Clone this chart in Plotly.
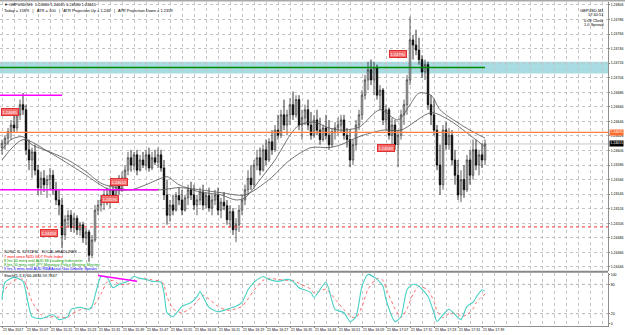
import plotly.graph_objects as go

# ---------------- data ----------------
candle_idx = list(range(162))

opens = [
1.24610,1.24616,1.24623,1.24632,1.24641,1.24637,1.24655,1.24669,1.24662,1.24607,
1.24593,1.24604,1.24579,1.24555,1.24568,1.24559,1.24566,1.24572,1.24552,1.24538,
1.24531,1.24490,1.24511,1.24517,1.24500,1.24513,1.24497,1.24504,1.24486,1.24494,
1.24462,1.24483,1.24524,1.24531,1.24538,1.24545,1.24538,1.24552,1.24545,1.24563,
1.24552,1.24568,1.24579,1.24596,1.24586,1.24600,1.24579,1.24593,1.24586,1.24600,
1.24582,1.24596,1.24590,1.24600,1.24582,1.24545,1.24517,1.24531,1.24524,1.24544,
1.24538,1.24524,1.24541,1.24552,1.24545,1.24531,1.24538,1.24549,1.24531,1.24544,
1.24527,1.24538,1.24545,1.24524,1.24535,1.24530,1.24511,1.24522,1.24497,1.24504,
1.24524,1.24538,1.24552,1.24568,1.24559,1.24586,1.24596,1.24579,1.24607,1.24593,
1.24618,1.24607,1.24634,1.24627,1.24655,1.24641,1.24655,1.24669,1.24655,1.24676,
1.24641,1.24651,1.24662,1.24641,1.24627,1.24648,1.24634,1.24621,1.24637,1.24627,
1.24614,1.24632,1.24637,1.24641,1.24648,1.24627,1.24621,1.24593,1.24614,1.24641,
1.24655,1.24682,1.24703,1.24717,1.24703,1.24720,1.24682,1.24689,1.24648,1.24662,
1.24627,1.24641,1.24614,1.24627,1.24655,1.24669,1.24703,1.24758,1.24751,1.24744,
1.24731,1.24714,1.24724,1.24669,1.24655,1.24634,1.24586,1.24559,1.24634,1.24614,
1.24627,1.24593,1.24572,1.24545,1.24566,1.24552,1.24593,1.24572,1.24607,1.24586,
1.24600,1.24593]

highs = [
1.24621,1.24627,1.24637,1.24648,1.24655,1.24662,1.24676,1.24685,1.24669,1.24621,
1.24610,1.24614,1.24586,1.24577,1.24579,1.24572,1.24582,1.24579,1.24563,1.24552,
1.24541,1.24517,1.24524,1.24524,1.24520,1.24517,1.24508,1.24508,1.24500,1.24497,
1.24490,1.24531,1.24538,1.24545,1.24552,1.24555,1.24559,1.24566,1.24568,1.24572,
1.24577,1.24586,1.24604,1.24607,1.24604,1.24607,1.24600,1.24604,1.24607,1.24610,
1.24604,1.24607,1.24610,1.24607,1.24593,1.24566,1.24538,1.24545,1.24549,1.24555,
1.24552,1.24545,1.24559,1.24563,1.24559,1.24545,1.24555,1.24559,1.24549,1.24555,
1.24545,1.24552,1.24555,1.24541,1.24549,1.24538,1.24531,1.24527,1.24513,1.24531,
1.24545,1.24559,1.24579,1.24586,1.24593,1.24607,1.24610,1.24614,1.24621,1.24623,
1.24634,1.24641,1.24655,1.24662,1.24676,1.24662,1.24678,1.24687,1.24682,1.24682,
1.24662,1.24669,1.24676,1.24659,1.24655,1.24662,1.24651,1.24641,1.24655,1.24648,
1.24637,1.24645,1.24651,1.24655,1.24655,1.24637,1.24634,1.24621,1.24648,1.24662,
1.24689,1.24710,1.24728,1.24731,1.24728,1.24724,1.24696,1.24692,1.24669,1.24665,
1.24651,1.24648,1.24634,1.24662,1.24676,1.24710,1.24790,1.24765,1.24772,1.24761,
1.24737,1.24731,1.24728,1.24682,1.24676,1.24641,1.24614,1.24641,1.24645,1.24637,
1.24634,1.24607,1.24593,1.24579,1.24586,1.24600,1.24607,1.24621,1.24621,1.24607,
1.24616,1.24621]

lows = [
1.24600,1.24607,1.24614,1.24621,1.24630,1.24632,1.24648,1.24655,1.24600,1.24579,
1.24568,1.24572,1.24545,1.24545,1.24549,1.24541,1.24552,1.24545,1.24531,1.24517,
1.24472,1.24483,1.24500,1.24494,1.24493,1.24490,1.24489,1.24479,1.24476,1.24453,
1.24458,1.24480,1.24517,1.24522,1.24524,1.24531,1.24527,1.24538,1.24541,1.24545,
1.24549,1.24559,1.24572,1.24577,1.24579,1.24572,1.24577,1.24582,1.24579,1.24577,
1.24579,1.24586,1.24582,1.24577,1.24538,1.24504,1.24508,1.24517,1.24522,1.24531,
1.24517,1.24522,1.24531,1.24538,1.24524,1.24517,1.24531,1.24524,1.24527,1.24522,
1.24517,1.24531,1.24517,1.24513,1.24524,1.24504,1.24500,1.24490,1.24480,1.24494,
1.24517,1.24531,1.24545,1.24552,1.24555,1.24579,1.24572,1.24577,1.24586,1.24590,
1.24600,1.24604,1.24621,1.24623,1.24634,1.24627,1.24641,1.24648,1.24651,1.24634,
1.24621,1.24641,1.24634,1.24621,1.24623,1.24627,1.24614,1.24618,1.24621,1.24607,
1.24610,1.24621,1.24627,1.24630,1.24621,1.24610,1.24583,1.24586,1.24607,1.24634,
1.24648,1.24676,1.24689,1.24696,1.24682,1.24676,1.24662,1.24641,1.24634,1.24621,
1.24614,1.24607,1.24583,1.24621,1.24641,1.24655,1.24696,1.24731,1.24737,1.24724,
1.24706,1.24703,1.24662,1.24641,1.24627,1.24579,1.24545,1.24552,1.24607,1.24607,
1.24586,1.24559,1.24538,1.24535,1.24541,1.24549,1.24559,1.24566,1.24579,1.24572,
1.24582,1.24586]

closes = [
1.24616,1.24623,1.24632,1.24641,1.24637,1.24655,1.24669,1.24662,1.24607,1.24593,
1.24604,1.24579,1.24555,1.24568,1.24559,1.24566,1.24572,1.24552,1.24538,1.24531,
1.24490,1.24511,1.24517,1.24500,1.24513,1.24497,1.24504,1.24486,1.24494,1.24462,
1.24483,1.24524,1.24531,1.24538,1.24545,1.24538,1.24552,1.24545,1.24563,1.24552,
1.24568,1.24579,1.24596,1.24586,1.24600,1.24579,1.24593,1.24586,1.24600,1.24582,
1.24596,1.24590,1.24600,1.24582,1.24545,1.24517,1.24531,1.24524,1.24544,1.24538,
1.24524,1.24541,1.24552,1.24545,1.24531,1.24538,1.24549,1.24531,1.24544,1.24527,
1.24538,1.24545,1.24524,1.24535,1.24530,1.24511,1.24522,1.24497,1.24504,1.24524,
1.24538,1.24552,1.24568,1.24559,1.24586,1.24596,1.24579,1.24607,1.24593,1.24618,
1.24607,1.24634,1.24627,1.24655,1.24641,1.24655,1.24669,1.24655,1.24676,1.24641,
1.24651,1.24662,1.24641,1.24627,1.24648,1.24634,1.24621,1.24637,1.24627,1.24614,
1.24632,1.24637,1.24641,1.24648,1.24627,1.24621,1.24593,1.24614,1.24641,1.24655,
1.24682,1.24703,1.24717,1.24703,1.24720,1.24682,1.24689,1.24648,1.24662,1.24627,
1.24641,1.24614,1.24627,1.24655,1.24669,1.24703,1.24758,1.24751,1.24744,1.24731,
1.24714,1.24724,1.24669,1.24655,1.24634,1.24586,1.24559,1.24634,1.24614,1.24627,
1.24593,1.24572,1.24545,1.24566,1.24552,1.24593,1.24572,1.24607,1.24586,1.24600,
1.24593,1.24615]

ma_fast_idx = [0,3,7,10,16,22,28,33,38,43,48,52,55,59,66,73,78,81,86,91,96,99,104,109,113,119,126,132,136,139,143,146,152,156,161]
ma_fast = [1.24607,1.24621,1.24625,1.24614,1.24604,1.24593,1.24577,1.24561,1.24555,1.24552,1.24559,1.24566,1.24570,1.24559,1.24549,1.24545,1.24538,1.24541,1.24566,1.24593,1.24627,1.24641,1.24645,1.24637,1.24634,1.24638,1.24662,1.24648,1.24669,1.24685,1.24682,1.24662,1.24644,1.24634,1.24623]

ma_slow_idx = [0,7,16,27,36,44,53,59,66,73,81,89,96,103,109,113,119,127,133,143,149,156,161]
ma_slow = [1.24593,1.24621,1.24603,1.24575,1.24552,1.24552,1.24552,1.24555,1.24552,1.24548,1.24545,1.24566,1.24593,1.24610,1.24610,1.24614,1.24625,1.24634,1.24634,1.24658,1.24648,1.24627,1.24611]

stoch_idx = [0,1,4,7,8,10,13,15,17,19,22,23,26,29,30,33,35,37,39,42,44,46,48,50,53,54,55,57,60,63,65,66,67,69,72,75,78,80,82,84,87,89,92,95,97,99,103,104,108,111,114,116,118,120,122,125,127,128,131,133,135,137,139,142,144,145,147,149,152,153,155,157,158,160,161]
stoch_k = [49,84,94,86,63,14,10,14,18,8,14,29,33,29,35,96,94,73,80,86,96,92,90,86,84,63,22,14,35,43,55,65,55,33,24,29,35,43,69,84,96,90,86,90,86,73,63,53,84,29,22,4,14,76,100,90,76,49,4,14,69,80,76,55,22,4,18,29,12,8,35,43,53,69,66]
stoch_d = [60,70,88,90,80,45,18,12,14,13,12,18,28,31,32,60,85,88,80,80,88,92,92,89,86,78,55,30,22,32,45,52,58,50,35,27,30,35,50,68,88,92,90,88,88,82,70,62,70,50,28,15,12,35,70,92,88,72,30,12,30,60,76,68,45,25,12,20,20,14,18,30,42,55,60]

time_tick_idx = [0,8,16,24,32,40,48,56,64,72,80,88,96,104,112,120,128,136,144,152,160]
time_tick_text = ["21 Mar 2017","21 Mar 15:07","21 Mar 15:15","21 Mar 15:23","21 Mar 15:31",
                  "21 Mar 15:39","21 Mar 15:47","21 Mar 15:55","21 Mar 16:03","21 Mar 16:11",
                  "21 Mar 16:19","21 Mar 16:27","21 Mar 16:35","21 Mar 16:43","21 Mar 16:51",
                  "21 Mar 16:59","21 Mar 17:07","21 Mar 17:15","21 Mar 17:23","21 Mar 17:31",
                  "21 Mar 17:39"]
grid_idx = list(range(0, 203, 4))

price_ticks = [1.24806,1.24786,1.24766,1.24746,1.24726,1.24706,1.24686,1.24666,1.24646,1.24626,
               1.24606,1.24586,1.24566,1.24546,1.24526,1.24506,1.24486,1.24466,1.24446]
stoch_ticks = [0, 20, 80, 100]
stoch_levels = [20, 80]

# horizontal levels
zone_top, zone_bottom = 1.24728, 1.24712
green_level = 1.24720
orange_level = 1.24631
red_dotted_level = 1.24501
bid_level = 1.24615
magenta_1 = (1.24682, 20)
magenta_2 = (1.24552, 52)
stoch_trend = ([32, 45], [98, 86])

price_labels = [  # (candle index, price, text)
    (2.7, 1.24659, "1.24685"),
    (39, 1.24563, "1.24610"),
    (36, 1.24540, "1.24596"),
    (15.7, 1.24493, "1.24453"),
    (132, 1.24739, "1.24790"),
    (128, 1.24610, "1.24583"),
]

header_1 = "\u25bc GBPUSD,M1  1.24580 1.24615 1.24580 1.24615"
header_2 = "Today = 158.9   |   ATR = 100   |   ATR Projection Up = 1.246   |   ATR Projection Down = 1.2359"
info_lines = ["GBPUSD,M1", "17:40:51", "0.09 Close", "1.0 Spread"]
news_lines = [
    ("SONIC R. SYSTEM    FOCAL HEADLINES", "#000000"),
    ("7 mins since NZD GDT Price Index", "#ff0000"),
    ("8 hrs 50 mins until AUD MI Leading Index m/m", "#00a000"),
    ("8 hrs 50 mins until JPY Monetary Policy Meeting Minutes", "#00a000"),
    ("9 hrs 5 mins until AUD RBA Assist Gov Debelle Speaks", "#0000ff"),
]
stoch_title = "Stoch(5,3,3) 66.4836 59.7847"

# ---------------- layout geometry ----------------
W, H = 625, 335
ML, MR, MT, MB = 0, 17, 2, 9
PH = H - MT - MB
BOTTOM = H - MB
def py(pix):  # pixel row -> paper y
    return (BOTTOM - pix) / PH
def px(pix):
    return pix / (W - ML - MR)

FONT = "Liberation Sans"
GRID = "#c4c4c4"

fig = go.Figure()

fig.add_trace(go.Candlestick(
    x=candle_idx, open=opens, high=highs, low=lows, close=closes,
    xaxis="x", yaxis="y", whiskerwidth=0,
    increasing=dict(line=dict(color="#383838", width=0.8), fillcolor="#ffffff"),
    decreasing=dict(line=dict(color="#000000", width=0.8), fillcolor="#000000"),
    showlegend=False, hoverinfo="skip"))

fig.add_trace(go.Scatter(x=ma_fast_idx, y=ma_fast, mode="lines", xaxis="x", yaxis="y",
                         line=dict(color="#505050", width=0.8, shape="spline", smoothing=0.8),
                         showlegend=False, hoverinfo="skip"))
fig.add_trace(go.Scatter(x=ma_slow_idx, y=ma_slow, mode="lines", xaxis="x", yaxis="y",
                         line=dict(color="#505050", width=0.8, shape="spline", smoothing=0.8),
                         showlegend=False, hoverinfo="skip"))

fig.add_trace(go.Scatter(x=stoch_idx, y=stoch_d, mode="lines", xaxis="x2", yaxis="y2",
                         line=dict(color="#ff6a6a", width=1, dash="dot", shape="spline", smoothing=0.6),
                         showlegend=False, hoverinfo="skip"))
fig.add_trace(go.Scatter(x=stoch_idx, y=stoch_k, mode="lines", xaxis="x2", yaxis="y2",
                         line=dict(color="#48d1c4", width=1.1, shape="spline", smoothing=0.6),
                         showlegend=False, hoverinfo="skip"))
fig.add_trace(go.Scatter(x=stoch_trend[0], y=stoch_trend[1], mode="lines", xaxis="x2", yaxis="y2",
                         line=dict(color="#ff00ff", width=1.5),
                         showlegend=False, hoverinfo="skip"))

x_range = [-0.667, 202]
main_dom = [py(271), 1]
stoch_dom = [0, py(273)]

shapes = []
shapes.append(dict(type="rect", xref="paper", yref="y", x0=0, x1=1, y0=zone_bottom, y1=zone_top,
                   fillcolor="#a9dbe3", line=dict(width=0), layer="below"))
shapes.append(dict(type="line", xref="x", yref="y", x0=x_range[0], x1=161, y0=green_level, y1=green_level,
                   line=dict(color="#008a00", width=1.6)))
shapes.append(dict(type="line", xref="paper", yref="y", x0=0, x1=1, y0=orange_level, y1=orange_level,
                   line=dict(color="#ff8040", width=1.2)))
shapes.append(dict(type="line", xref="paper", yref="y", x0=0, x1=1, y0=bid_level, y1=bid_level,
                   line=dict(color="#c8c8c8", width=1), layer="below"))
shapes.append(dict(type="line", xref="paper", yref="y", x0=0, x1=1, y0=red_dotted_level, y1=red_dotted_level,
                   line=dict(color="#ff3030", width=1, dash="dot")))
for lvl, end in (magenta_1, magenta_2):
    shapes.append(dict(type="line", xref="x", yref="y", x0=x_range[0], x1=end, y0=lvl, y1=lvl,
                       line=dict(color="#ff00ff", width=1.5)))
for lv in stoch_levels:
    shapes.append(dict(type="line", xref="paper", yref="y2", x0=0, x1=1, y0=lv, y1=lv,
                       line=dict(color="#b0b0b0", width=1, dash="dot"), layer="below"))
shapes.append(dict(type="line", xref="paper", yref="paper", x0=0, x1=1, y0=py(271.8), y1=py(271.8),
                   line=dict(color="#8a8a8a", width=2)))
shapes.append(dict(type="rect", xref="paper", yref="paper", x0=0, x1=1.03, y0=py(1.6), y1=py(0),
                   fillcolor="#a8a8a8", line=dict(width=0)))

ann = []
for i, p, t in price_labels:
    ann.append(dict(x=i, y=p, xref="x", yref="y", text=t, showarrow=False,
                    font=dict(family=FONT, size=4, color="#ffffff"),
                    bgcolor="#f26d6d", bordercolor="#e03030", borderwidth=1, borderpad=0.5))
ann.append(dict(x=1.001, y=orange_level, xref="paper", yref="y", xanchor="left", text="1.24631", showarrow=False,
                font=dict(family=FONT, size=3.5, color="#ffffff"), bgcolor="#ff6a2a", borderpad=0.3))
ann.append(dict(x=1.001, y=bid_level, xref="paper", yref="y", xanchor="left", text="1.24615", showarrow=False,
                font=dict(family=FONT, size=3.5, color="#ffffff"), bgcolor="#000000", borderpad=0.3))
ann.append(dict(x=px(2), y=py(4.5), xref="paper", yref="paper", xanchor="left", yanchor="middle",
                text=header_1, showarrow=False, font=dict(family=FONT, size=4, color="#000000")))
ann.append(dict(x=px(2), y=py(10), xref="paper", yref="paper", xanchor="left", yanchor="middle",
                text=header_2, showarrow=False, font=dict(family=FONT, size=4, color="#000000")))
for k, t in enumerate(info_lines):
    ann.append(dict(x=px(606), y=py(10 + 5 * k), xref="paper", yref="paper", xanchor="right", yanchor="middle",
                    text=t, showarrow=False, font=dict(family=FONT, size=4, color="#000000")))
news_rows = [252, 256.5, 261, 265, 269]
for (t, c), r in zip(news_lines, news_rows):
    ann.append(dict(x=px(2), y=py(r), xref="paper", yref="paper", xanchor="left", yanchor="middle",
                    text=t, showarrow=False, font=dict(family=FONT, size=3.8, color=c)))
ann.append(dict(x=px(2), y=py(275.5), xref="paper", yref="paper", xanchor="left", yanchor="middle",
                text=stoch_title, showarrow=False, font=dict(family=FONT, size=4, color="#000000")))

axis_common = dict(showgrid=True, gridcolor=GRID, griddash="dot", gridwidth=1, zeroline=False)

fig.update_layout(
    width=W, height=H, margin=dict(l=ML, r=MR, t=MT, b=MB),
    paper_bgcolor="#ffffff", plot_bgcolor="#ffffff",
    font=dict(family=FONT, size=4, color="#000000"),
    showlegend=False,
    xaxis=dict(domain=[0, 1], anchor="y", range=x_range, tickmode="array", tickvals=time_tick_idx,
               showticklabels=False, ticks="", rangeslider=dict(visible=False),
               minor=dict(tickvals=grid_idx, showgrid=True, gridcolor=GRID, griddash="dot"),
               **axis_common),
    xaxis2=dict(domain=[0, 1], anchor="y2", range=x_range, matches="x", tickmode="array",
                tickvals=time_tick_idx, ticktext=time_tick_text, ticklabelposition="outside right",
                tickangle=0, ticks="outside", ticklen=1, tickcolor="#808080",
                tickfont=dict(family=FONT, size=3.6, color="#000000"),
                showline=True, linecolor="#909090", linewidth=1,
                rangeslider=dict(visible=False),
                minor=dict(tickvals=grid_idx, showgrid=True, gridcolor=GRID, griddash="dot"),
                automargin=False, **axis_common),
    yaxis=dict(domain=main_dom, anchor="x", side="right", range=[1.244404, 1.248101],
               tickmode="array", tickvals=price_ticks, ticktext=[f"{v:.5f}" for v in price_ticks],
               ticks="outside", ticklen=1, tickcolor="#808080",
               tickfont=dict(family=FONT, size=3.5, color="#000000"),
               showline=True, linecolor="#909090", linewidth=1, automargin=False, **axis_common),
    yaxis2=dict(domain=stoch_dom, anchor="x2", side="right", range=[-5, 103],
                tickmode="array", tickvals=stoch_ticks, ticktext=[str(v) for v in stoch_ticks],
                ticks="outside", ticklen=1, tickcolor="#808080",
                tickfont=dict(family=FONT, size=3.5, color="#000000"),
                showline=True, linecolor="#909090", linewidth=1, automargin=False,
                showgrid=False, zeroline=False),
    shapes=shapes, annotations=ann,
)

fig.write_html("out.html")
